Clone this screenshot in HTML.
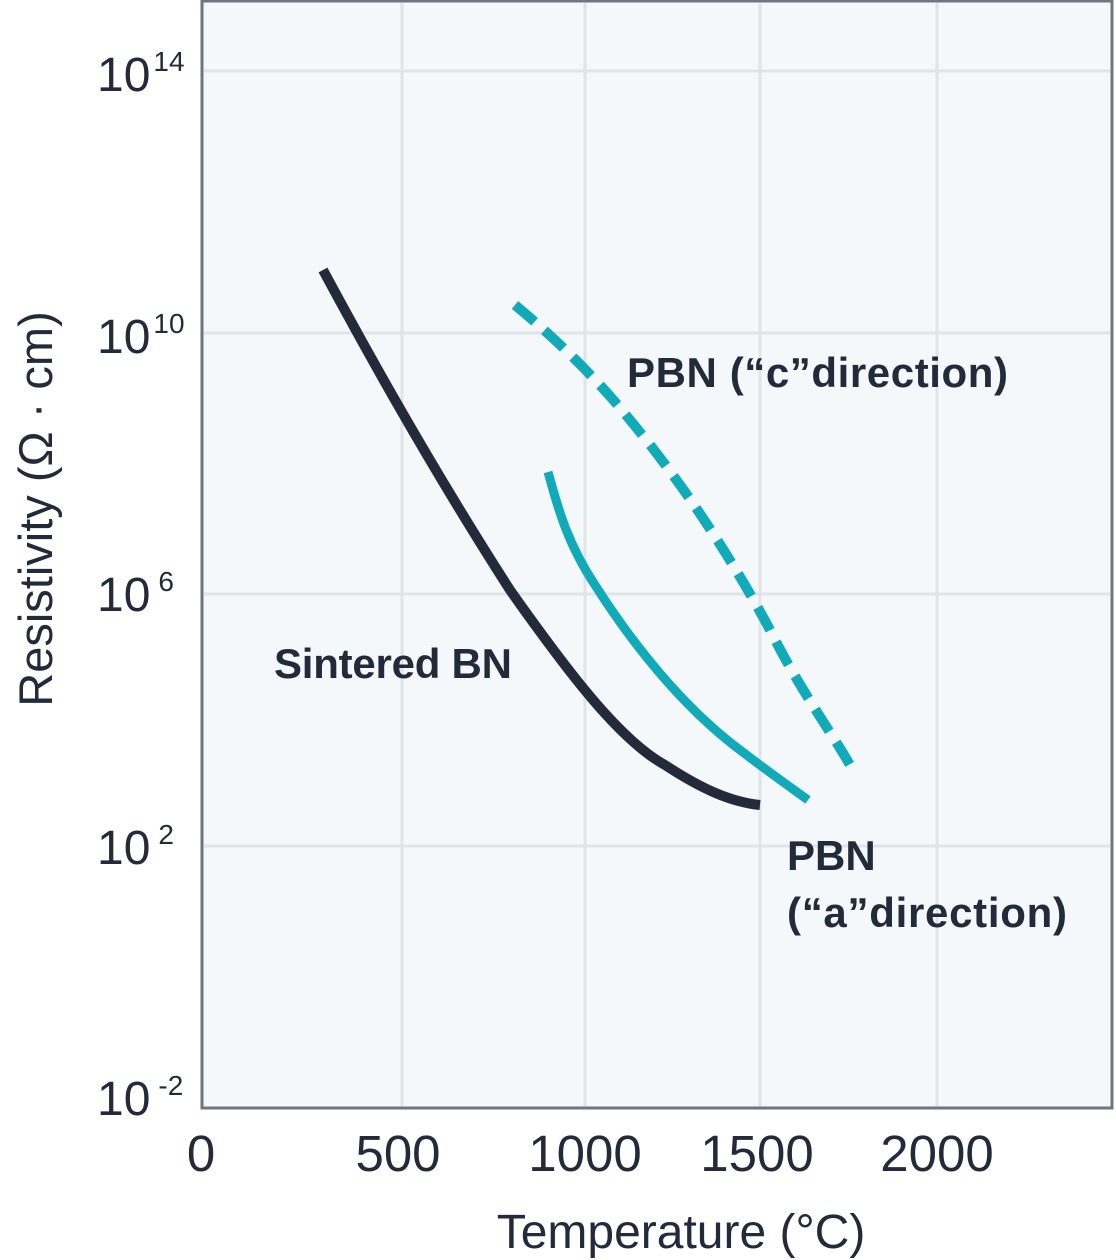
<!DOCTYPE html>
<html><head><style>
html,body{margin:0;padding:0;background:#fff}
svg{display:block}
text{font-family:"Liberation Sans","DejaVu Sans",sans-serif;fill:#232b3b}
</style></head><body>
<svg width="1116" height="1260" viewBox="0 0 1116 1260" xmlns="http://www.w3.org/2000/svg">
<rect x="202" y="1" width="910" height="1107" fill="#f5f8fa" stroke="#70757f" stroke-width="3"/>
<g stroke="#e0e3e7" stroke-width="3">
<line x1="402" y1="3" x2="402" y2="1106"/>
<line x1="585" y1="3" x2="585" y2="1106"/>
<line x1="760" y1="3" x2="760" y2="1106"/>
<line x1="937" y1="3" x2="937" y2="1106"/>
<line x1="204" y1="71" x2="1110" y2="71"/>
<line x1="204" y1="333" x2="1110" y2="333"/>
<line x1="204" y1="594" x2="1110" y2="594"/>
<line x1="204" y1="846" x2="1110" y2="846"/>
</g>
<path d="M323,270 C350,320 420,450 510,590 C570,675 620,740 665,765 C700,788 730,802 760,805" fill="none" stroke="#232b3b" stroke-width="10"/>
<path d="M548,472 C556,500 565,540 595,585 C630,640 680,705 740,750 C770,773 790,787 808,800" fill="none" stroke="#10aab9" stroke-width="9"/>
<path d="M515,305 C545,330 590,370 630,420 C680,480 730,555 770,630 C800,690 830,730 850,765" fill="none" stroke="#10aab9" stroke-width="10" stroke-dasharray="26,13"/>
<g font-size="48">
<text x="97" y="91">10<tspan font-size="28" dy="-20" dx="3">14</tspan></text>
<text x="97" y="353">10<tspan font-size="28" dy="-20" dx="3">10</tspan></text>
<text x="97" y="611">10<tspan font-size="28" dy="-20" dx="8">6</tspan></text>
<text x="97" y="864">10<tspan font-size="28" dy="-20" dx="8">2</tspan></text>
<text x="97" y="1115">10<tspan font-size="28" dy="-20" dx="8">-2</tspan></text>
</g>
<g font-size="51" text-anchor="middle">
<text x="201" y="1171">0</text>
<text x="398" y="1171">500</text>
<text x="585" y="1171">1000</text>
<text x="757" y="1171">1500</text>
<text x="937" y="1171">2000</text>
</g>
<text x="681" y="1248" font-size="48" text-anchor="middle">Temperature (°C)</text>
<text transform="translate(52,509) rotate(-90)" font-size="47" text-anchor="middle">Resistivity (Ω · cm)</text>
<g font-size="42" font-weight="bold">
<text x="274" y="678" textLength="238">Sintered BN</text>
<text x="627" y="387" textLength="381">PBN (“c”direction)</text>
<text x="787" y="870">PBN</text>
<text x="787" y="927" textLength="280">(“a”direction)</text>
</g>
</svg>
</body></html>
